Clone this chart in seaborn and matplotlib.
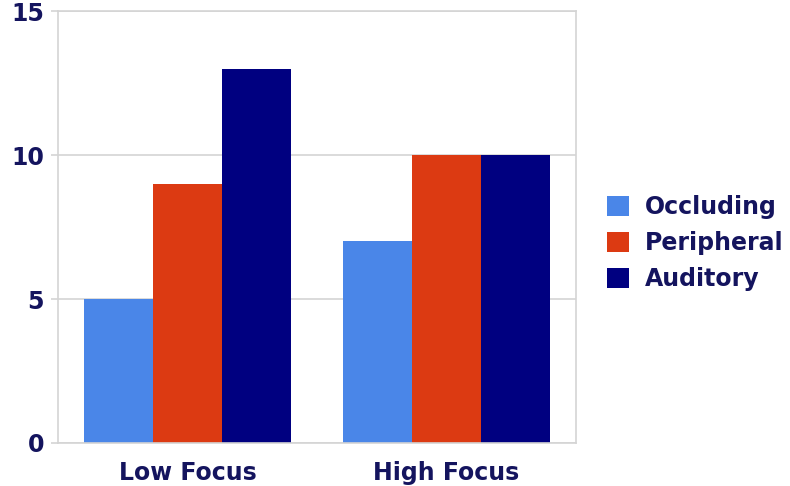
import matplotlib
matplotlib.use("Agg")
import matplotlib.pyplot as plt
import seaborn as sns
import pandas as pd

# Data
conditions = ["Low Focus", "High Focus"]
cue_types = ["Occluding", "Peripheral", "Auditory"]
occluding = [5, 7]
peripheral = [9, 10]
auditory = [13, 10]
y_ticks = [0, 5, 10, 15]

colors = ["#4A86E8", "#DC3A12", "#000080"]
text_color = "#14145E"
grid_color = "#D4D4D4"

rows = []
for i, cond in enumerate(conditions):
    for cue, vals in zip(cue_types, [occluding, peripheral, auditory]):
        rows.append({"condition": cond, "cue": cue, "value": vals[i]})
df = pd.DataFrame(rows)

sns.set_theme(style="white")
plt.rcParams["font.family"] = ["DejaVu Sans"]

fig = plt.figure(figsize=(7.9, 4.86), dpi=100)
ax = fig.add_axes([0.0734, 0.0885, 0.6556, 0.8885])

sns.barplot(data=df, x="condition", y="value", hue="cue", order=conditions,
            hue_order=cue_types, palette=colors, saturation=1, width=0.8,
            edgecolor="none", linewidth=0, ax=ax, legend=True, errorbar=None)

ax.set_xlim(-0.5, 1.5)
ax.set_ylim(0, 15)
ax.set_yticks(y_ticks)
ax.set_yticklabels([str(t) for t in y_ticks])
ax.set_axisbelow(True)
ax.yaxis.grid(True, color=grid_color, linewidth=1.2)
ax.xaxis.grid(False)
for side in ["left", "right", "top", "bottom"]:
    ax.spines[side].set_visible(True)
    ax.spines[side].set_color(grid_color)
    ax.spines[side].set_linewidth(1.2)

ax.tick_params(axis="y", which="both", left=True, length=5, width=1.2,
               color=grid_color, labelsize=17, labelcolor=text_color, pad=5)
ax.tick_params(axis="x", bottom=False, labelsize=17, labelcolor=text_color, pad=7)
for lab in ax.get_xticklabels() + ax.get_yticklabels():
    lab.set_fontweight("bold")

ax.set_xlabel("")
ax.set_ylabel("")

handles, labels = ax.get_legend_handles_labels()
ax.legend(handles, labels, loc="center left", bbox_to_anchor=(1.06, 0.463),
          frameon=False, handlelength=0.95, handleheight=0.95, handletextpad=0.65,
          labelspacing=0.5, prop={"weight": "bold", "size": 17},
          labelcolor=text_color, borderaxespad=0, borderpad=0)

fig.savefig("out.png", dpi=100)
